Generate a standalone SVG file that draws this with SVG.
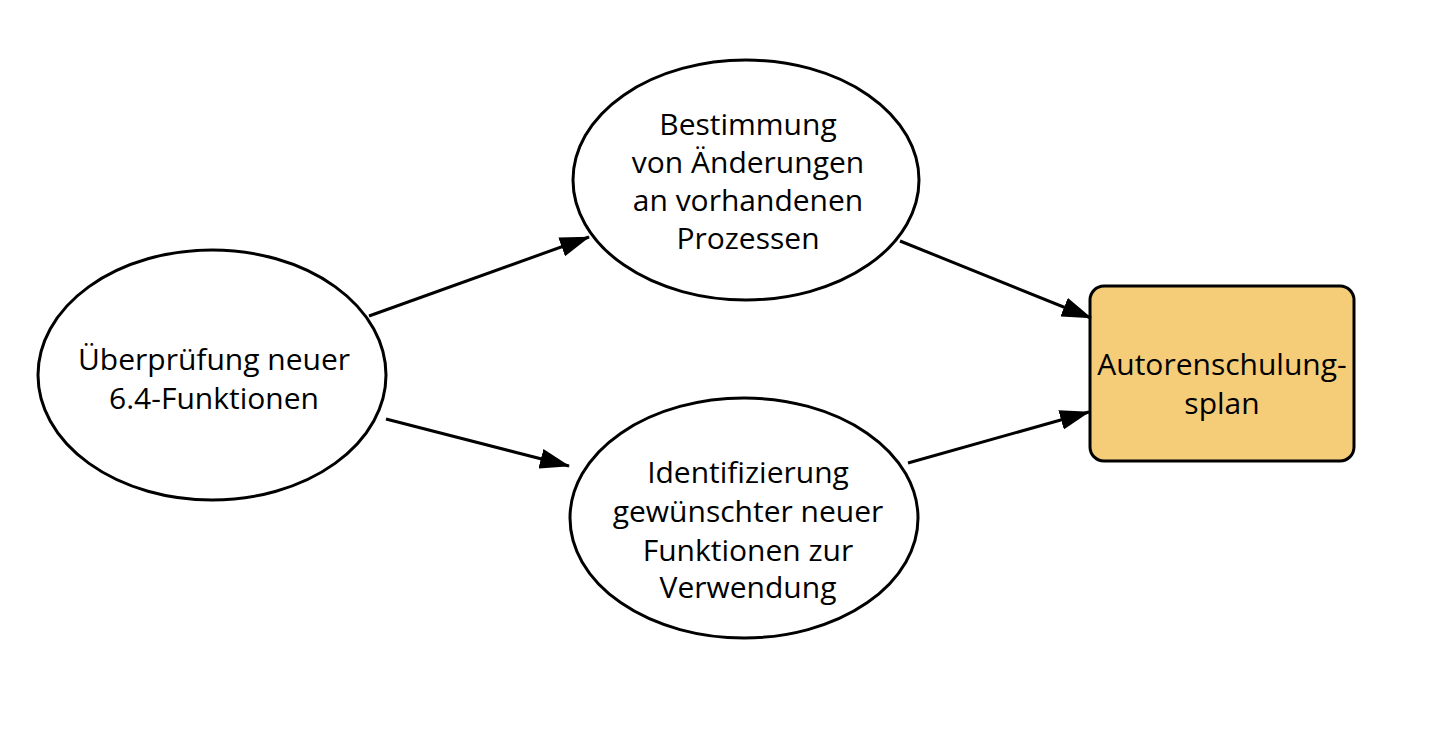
<svg xmlns="http://www.w3.org/2000/svg" width="1438" height="750" viewBox="0 0 1438 750">
<style>
.n{fill:#fff;stroke:#000;stroke-width:3}
.b{fill:#F5CC78;stroke:#000;stroke-width:3}
.t{font-family:"Open Sans","Noto Sans",sans-serif;font-size:30px;fill:#000;text-anchor:middle}
.c{stroke:#000;stroke-width:3;fill:none;marker-end:url(#ah)}
</style>
<defs>
<marker id="ah" markerWidth="30" markerHeight="20" refX="29" refY="10" orient="auto" markerUnits="userSpaceOnUse" viewBox="0 0 30 20">
<path d="M0,0 L30,10 L0,20 Z" fill="#000"/>
</marker>
</defs>
<rect width="1438" height="750" fill="#fff"/>
<g id="n1">
<ellipse class="n" cx="212" cy="375" rx="174" ry="125"/>
<text class="t" x="214" y="370">Überprüfung neuer</text>
<text class="t" x="214" y="409">6.4-Funktionen</text>
</g>
<g id="n2">
<ellipse class="n" cx="746" cy="180" rx="173" ry="120"/>
<text class="t" x="748" y="135">Bestimmung</text>
<text class="t" x="748" y="173">von Änderungen</text>
<text class="t" x="748" y="211">an vorhandenen</text>
<text class="t" x="748" y="249">Prozessen</text>
</g>
<g id="n3">
<ellipse class="n" cx="744" cy="518" rx="174" ry="120"/>
<text class="t" x="748" y="483">Identifizierung</text>
<text class="t" x="748" y="522">gewünschter neuer</text>
<text class="t" x="748" y="561">Funktionen zur</text>
<text class="t" x="748" y="598">Verwendung</text>
</g>
<g id="n4">
<rect class="b" x="1090" y="286" width="264" height="175" rx="14"/>
<text class="t" x="1222" y="375">Autorenschulung-</text>
<text class="t" x="1222" y="414">splan</text>
</g>
<g id="connectors">
<line class="c" x1="369" y1="316" x2="589" y2="237"/>
<line class="c" x1="386" y1="419" x2="569" y2="466"/>
<line class="c" x1="900" y1="241" x2="1091" y2="318"/>
<line class="c" x1="908" y1="463" x2="1089" y2="412"/>
</g>
</svg>
